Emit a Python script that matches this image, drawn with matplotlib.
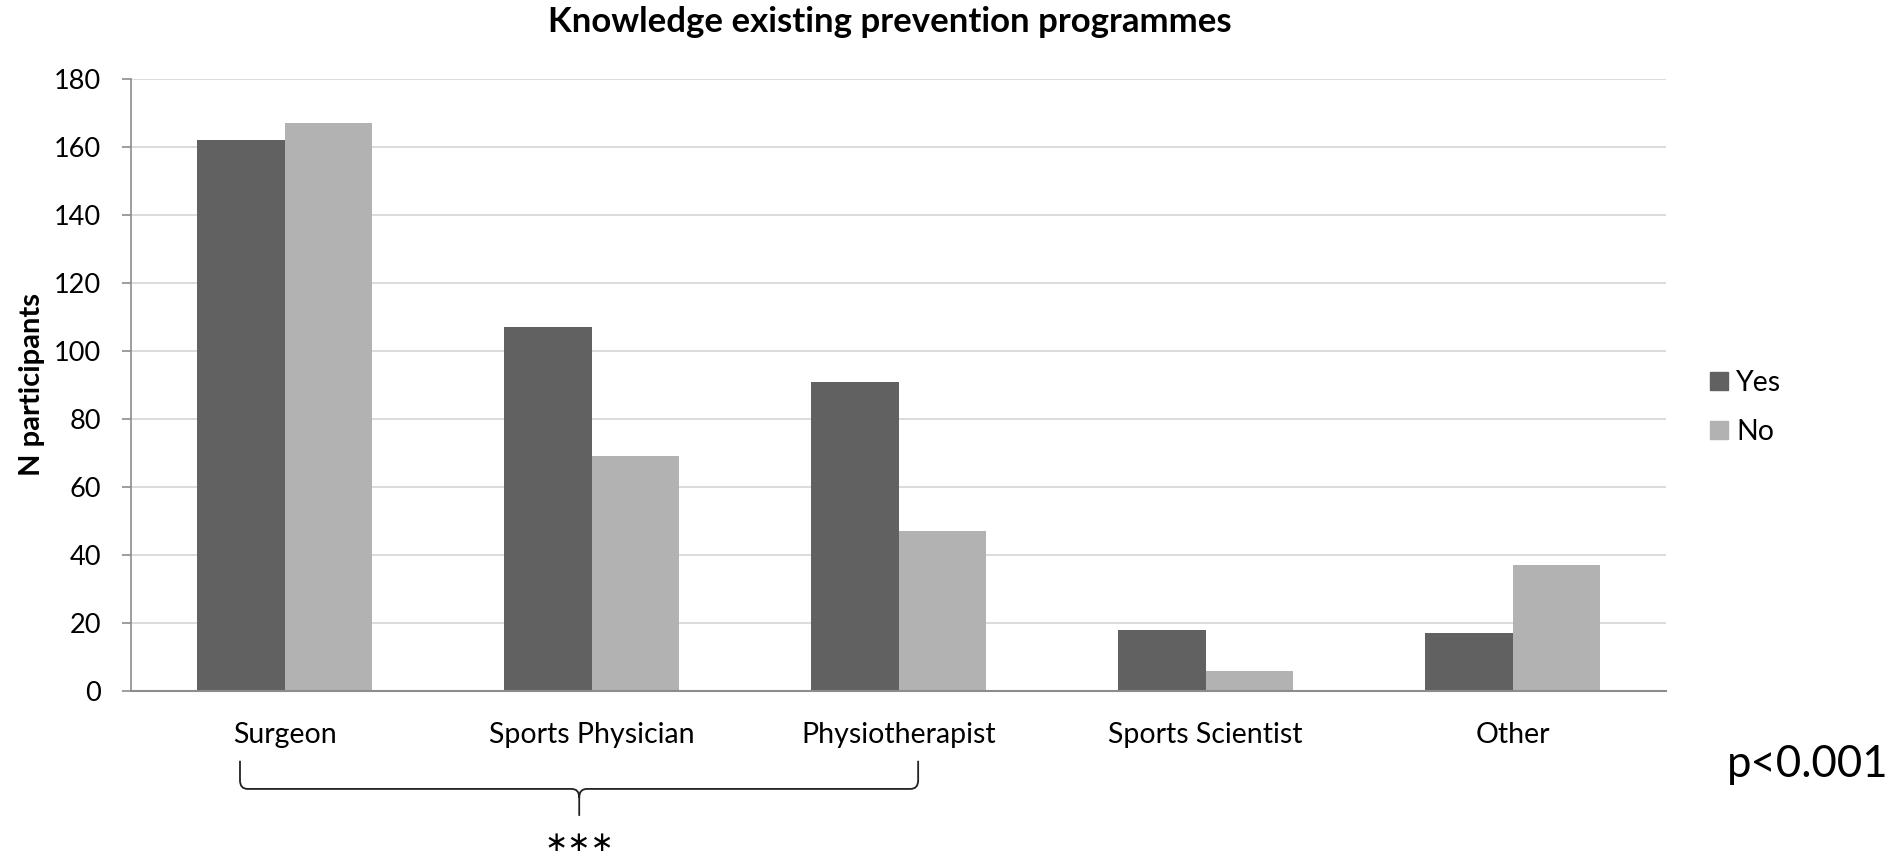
import numpy as np
import matplotlib
matplotlib.use("Agg")
import matplotlib.pyplot as plt
import matplotlib.patches as patches
from matplotlib.path import Path

plt.rcParams['font.family'] = ['Lato', 'DejaVu Sans']

# Antworten je Berufsgruppe
categories = ['Surgeon', 'Sports Physician', 'Physiotherapist', 'Sports Scientist', 'Other']
yes_counts = [162, 107, 91, 18, 17]
no_counts = [167, 69, 47, 6, 37]
series_names = ['Yes', 'No']
yticks = [0, 20, 40, 60, 80, 100, 120, 140, 160, 180]

COL_YES = '#616161'
COL_NO = '#b2b2b2'
GRID = '#d9d9d9'
AXIS = '#8c8c8c'

W, H = 1901, 859
fig = plt.figure(figsize=(W / 100, H / 100), dpi=100)
ax = fig.add_axes([131 / W, 1 - 691 / H, (1666 - 131) / W, (691 - 79) / H])

x = np.arange(len(categories))
bw = 1 / 3.5
ax.bar(x - bw / 2, yes_counts, bw, color=COL_YES, linewidth=0, label=series_names[0], zorder=3)
ax.bar(x + bw / 2, no_counts, bw, color=COL_NO, linewidth=0, label=series_names[1], zorder=3)

ax.set_xlim(-0.5, len(categories) - 0.5)
ax.set_ylim(0, 180)
ax.set_yticks(yticks)
ax.set_xticks(x)
ax.set_xticklabels(categories, fontsize=20.5)
ax.tick_params(axis='x', length=0, pad=22)
ax.tick_params(axis='y', length=6.5, width=1.2, color=AXIS, pad=15, labelsize=19.5)
ax.grid(axis='y', color=GRID, linewidth=1.3, zorder=0)

for side in ['top', 'right']:
    ax.spines[side].set_visible(False)
ax.spines['left'].set_color(AXIS)
ax.spines['bottom'].set_color(AXIS)
ax.spines['left'].set_linewidth(1.2)
ax.spines['bottom'].set_linewidth(1.5)
ax.spines['bottom'].set_zorder(4)

ax.set_ylabel('N participants', fontsize=21, fontweight='bold', ha='center', va='center')
ax.yaxis.set_label_coords((32 - 131) / (1666 - 131), 0.5)

fig.text(890 / W, 1 - 22 / H, 'Knowledge existing prevention programmes',
         ha='center', va='center', fontsize=25, fontweight='bold')

fig.legend(handles=[patches.Patch(color=COL_YES, label=series_names[0]),
                    patches.Patch(color=COL_NO, label=series_names[1])],
           loc='center left', bbox_to_anchor=(1710 / W, 1 - 407.5 / H),
           frameon=False, fontsize=20.5, handlelength=0.63, handleheight=0.63,
           handletextpad=0.3, labelspacing=0.8, borderpad=0, borderaxespad=0)

# geschweifte Klammer unter den ersten drei Gruppen
def brace(ax, x0, x1, xm, y_end, y_mid, y_tip, rx=0.025, ry=0.014):
    tr = ax.get_xaxis_transform()
    verts = [
        (x0, y_end), (x0, y_mid + ry),
        (x0, y_mid), (x0 + rx, y_mid),
        (xm - rx, y_mid),
        (xm, y_mid), (xm, y_mid - ry),
        (xm, y_tip),
        (xm, y_mid - ry), (xm, y_mid), (xm + rx, y_mid),
        (x1 - rx, y_mid),
        (x1, y_mid), (x1, y_mid + ry),
        (x1, y_end),
    ]
    codes = [Path.MOVETO, Path.LINETO,
             Path.CURVE3, Path.CURVE3,
             Path.LINETO,
             Path.CURVE3, Path.CURVE3,
             Path.LINETO,
             Path.MOVETO, Path.CURVE3, Path.CURVE3,
             Path.LINETO,
             Path.CURVE3, Path.CURVE3,
             Path.LINETO]
    p = patches.PathPatch(Path(verts, codes), fill=False, edgecolor='#222222',
                          linewidth=1.3, transform=tr, clip_on=False)
    ax.add_patch(p)

brace(ax, x[0] - 0.145, x[2] + 0.064, x[1] - 0.04, -0.114, -0.160, -0.204)
fig.text(579.5 / W, 2 / H, '\u2217\u2217\u2217', family='DejaVu Sans',
         ha='center', va='bottom', fontsize=20)

fig.text(1727 / W, 1 - 777 / H, 'p<0.001', ha='left', va='baseline', fontsize=31.5)

fig.savefig('out.png', dpi=100)
